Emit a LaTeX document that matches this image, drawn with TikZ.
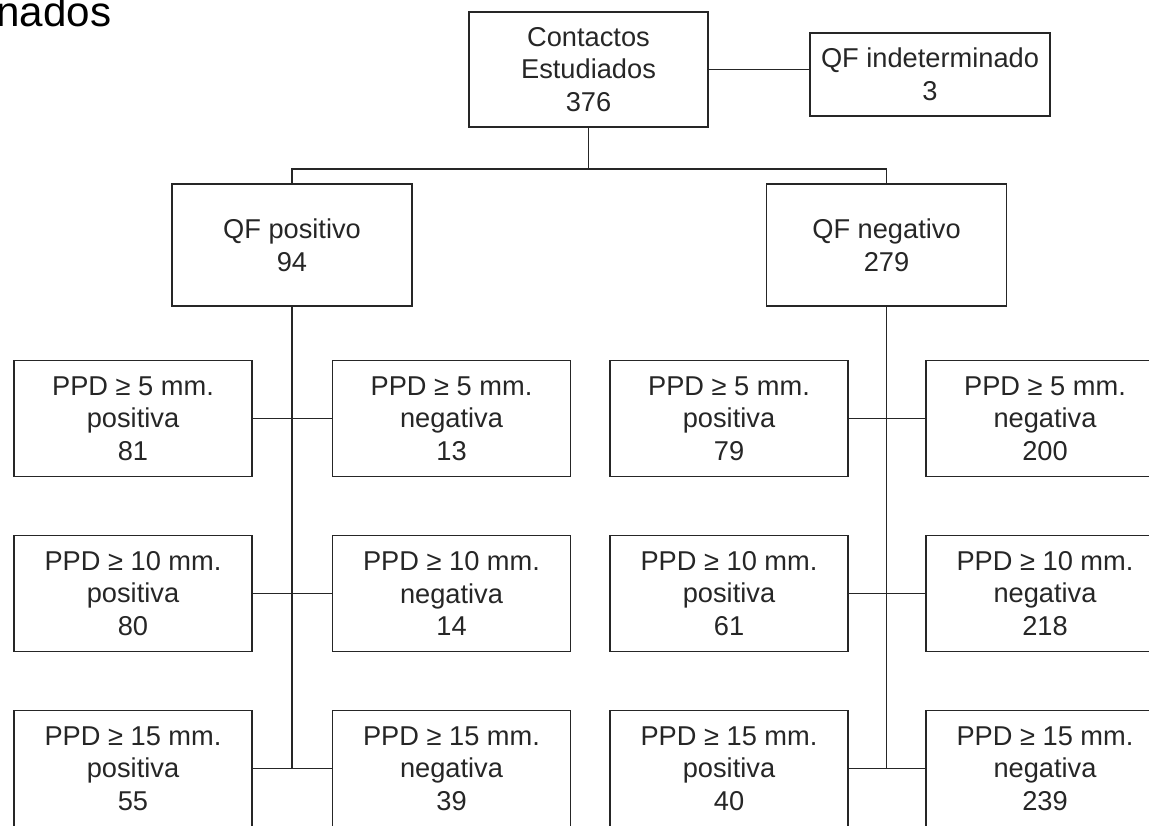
\documentclass[tikz,border=0pt]{standalone}
\usepackage{fontspec}
\setmainfont{Liberation Sans}

\begin{document}
\begin{tikzpicture}[x=1cm,y=1cm,thick]
  \tikzstyle{result}=[draw=black!85, text=black!85, minimum width=4.76cm, minimum height=2.32cm, align=center, inner sep=0pt, font=\fontsize{15.5}{18.6}\selectfont]
  \tikzstyle{group}=[result, minimum width=4.8cm, minimum height=2.44cm]

  \useasboundingbox (0,0) rectangle (22.98,16.5);
  \clip (0,0) rectangle (22.98,16.5);

  \node[anchor=base east, inner sep=0pt, font=\fontsize{24}{28}\selectfont] (heading) at (2.24,15.96) {nados};

  \node[result, minimum width=4.78cm, minimum height=2.3cm] (contacts) at (11.77,15.11) {Contactos\\Estudiados\\376};
  \node[result, minimum width=4.8cm, minimum height=1.66cm] (indet) at (18.6,15.01) {QF indeterminado\\3};

  \node[group] (qfpos) at (5.84,11.6) {QF positivo\\94};
  \node[group] (qfneg) at (17.73,11.6) {QF negativo\\279};

  \node[result] (p5pos) at (2.66,8.13) {PPD ≥ 5 mm.\\positiva\\81};
  \node[result] (p5neg) at (9.03,8.13) {PPD ≥ 5 mm.\\negativa\\13};
  \node[result] (p10pos) at (2.66,4.63) {PPD ≥ 10 mm.\\positiva\\80};
  \node[result] (p10neg) at (9.03,4.63) {PPD ≥ 10 mm.\\negativa\\14};
  \node[result] (p15pos) at (2.66,1.13) {PPD ≥ 15 mm.\\positiva\\55};
  \node[result] (p15neg) at (9.03,1.13) {PPD ≥ 15 mm.\\negativa\\39};

  \node[result] (n5pos) at (14.58,8.13) {PPD ≥ 5 mm.\\positiva\\79};
  \node[result] (n5neg) at (20.9,8.13) {PPD ≥ 5 mm.\\negativa\\200};
  \node[result] (n10pos) at (14.58,4.63) {PPD ≥ 10 mm.\\positiva\\61};
  \node[result] (n10neg) at (20.9,4.63) {PPD ≥ 10 mm.\\negativa\\218};
  \node[result] (n15pos) at (14.58,1.13) {PPD ≥ 15 mm.\\positiva\\40};
  \node[result] (n15neg) at (20.9,1.13) {PPD ≥ 15 mm.\\negativa\\239};

  \coordinate (bus) at (11.77,13.12);

  \draw[black!85] (contacts.east) -- (contacts.east -| indet.west);
  \draw[black!85] (contacts) -- (bus);
  \draw[black!85] (qfpos) |- (bus) -| (qfneg);

  \draw[black!85] (qfpos) -- (qfpos |- p15pos);
  \draw[black!85] (qfneg) -- (qfneg |- n15pos);

  \draw[black!85] (p5pos) -- (p5neg);
  \draw[black!85] (p10pos) -- (p10neg);
  \draw[black!85] (p15pos) -- (p15neg);
  \draw[black!85] (n5pos) -- (n5neg);
  \draw[black!85] (n10pos) -- (n10neg);
  \draw[black!85] (n15pos) -- (n15neg);
\end{tikzpicture}
\end{document}
